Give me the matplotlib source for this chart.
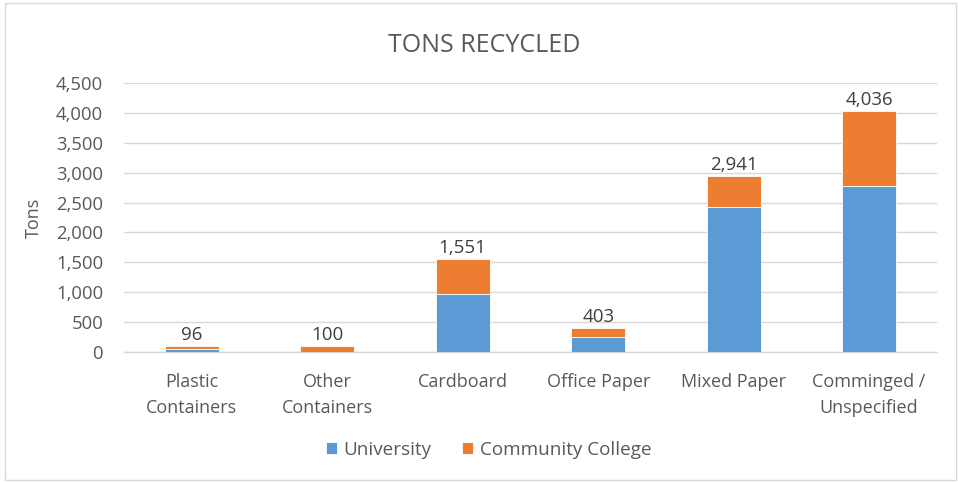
import matplotlib
matplotlib.use("Agg")
import matplotlib.pyplot as plt
from matplotlib.patches import Rectangle
from matplotlib.ticker import FuncFormatter
import numpy as np

categories = ["Plastic\nContainers", "Other\nContainers", "Cardboard", "Office Paper", "Mixed Paper", "Comminged /\nUnspecified"]
university = [55, 0, 975, 256, 2418, 2773]
community_college = [41, 100, 576, 147, 523, 1263]
totals = [96, 100, 1551, 403, 2941, 4036]
yticks = [0, 500, 1000, 1500, 2000, 2500, 3000, 3500, 4000, 4500]

plt.rcParams['font.family'] = ['Open Sans', 'DejaVu Sans']
txt = '#595959'

fig = plt.figure(figsize=(9.58, 4.82), dpi=100)
ax = fig.add_axes([0.1294, 0.2697, 0.8486, 0.5581])
x = np.arange(len(categories))
w = 0.4
ax.bar(x, university, w, color='#5B9BD5', label='University', zorder=3, edgecolor='white', linewidth=0.6)
ax.bar(x, community_college, w, bottom=university, color='#ED7D31', label='Community College', zorder=3, edgecolor='white', linewidth=0.6)
for xi, t in zip(x, totals):
    ax.text(xi, t + 30, f"{t:,}", ha='center', va='bottom', fontsize=13.5, color='#404040')

ax.set_xlim(-0.5, len(categories) - 0.5)
ax.set_ylim(0, 4500)
ax.set_yticks(yticks)
ax.yaxis.set_major_formatter(FuncFormatter(lambda v, p: f"{int(v):,}"))
ax.grid(axis='y', color='#d9d9d9', linewidth=1, zorder=0)
for s in ['top', 'right', 'left']:
    ax.spines[s].set_visible(False)
ax.spines['bottom'].set_color('#d9d9d9')
ax.spines['bottom'].set_linewidth(1)
ax.set_xticks(x)
ax.set_xticklabels(categories, fontsize=13, color=txt, linespacing=1.55)
ax.tick_params(axis='y', labelsize=13.3, colors=txt, length=0, pad=15)
ax.tick_params(axis='x', length=0, pad=15)
ax.set_ylabel("Tons", fontsize=13, color=txt)
ax.yaxis.set_label_coords(-0.1, 0.5)

fig.text(0.505, 0.905, "TONS RECYCLED", ha='center', va='center', fontsize=18, color=txt)
leg = fig.legend(loc='center', bbox_to_anchor=(0.51, 0.067), ncol=2, frameon=False, fontsize=13.6,
                 handlelength=0.6, handleheight=0.6, columnspacing=1.6, handletextpad=0.35)
for t in leg.get_texts():
    t.set_color(txt)

fig.patches.append(Rectangle((0.005, 0.004), 0.993, 0.99, transform=fig.transFigure, fill=False,
                             edgecolor='#d9d9d9', linewidth=1))
fig.savefig("out.png", dpi=100)
